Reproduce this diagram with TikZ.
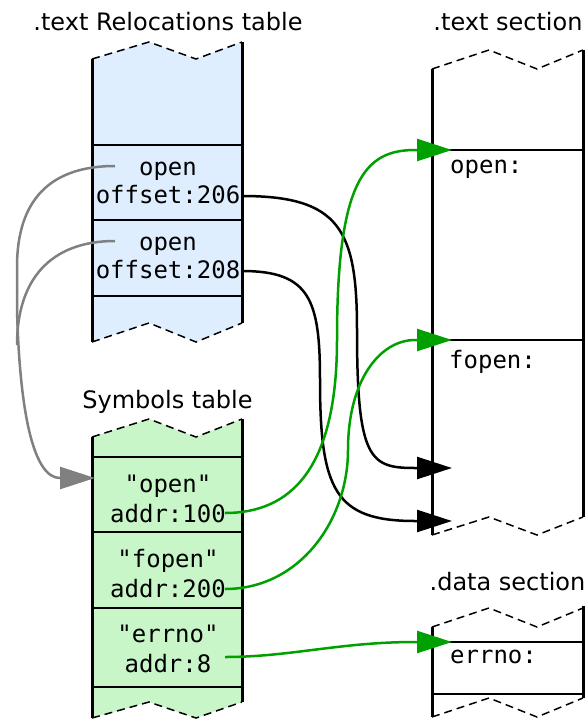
\documentclass[tikz,border=0pt]{standalone}
\usepackage{fontspec}
\setmainfont{DejaVu Sans}
\setmonofont{DejaVu Sans Mono}
\usetikzlibrary{arrows.meta}
\definecolor{relfill}{RGB}{222,238,255}
\definecolor{symfill}{RGB}{200,246,200}
\definecolor{grn}{RGB}{0,160,0}
\definecolor{gry}{RGB}{128,128,128}
\begin{document}
\begin{tikzpicture}[x=1pt,y=-1pt,
  title/.style={font=\fontsize{24}{28}\selectfont, anchor=base, inner sep=0pt},
  mono/.style={font=\ttfamily\fontsize{24}{28}\selectfont, anchor=base, inner sep=0pt},
  monol/.style={mono, anchor=base west},
  side/.style={line width=3pt},
  rowline/.style={line width=1.5pt},
  zig/.style={line width=1.5pt, dash pattern=on 8pt off 5pt},
  conn/.style={line width=2.5pt},
  tip/.style={-{Triangle[length=35pt,width=22pt]}}
]
\useasboundingbox (0,0) rectangle (587,720);

% ---------- .text Relocations table ----------
\fill[relfill] (92,59) -- (149,42) -- (196,59) -- (242,42) -- (242,323) -- (196,342) -- (149,323) -- (92,342) -- cycle;
\draw[zig] (92,59) -- (149,42) -- (196,59) -- (242,42);
\draw[zig] (92,342) -- (149,323) -- (196,342) -- (242,323);
\draw[side] (92,59) -- (92,342);
\draw[side] (242,42) -- (242,323);
\draw[rowline] (92,145) -- (242,145);
\draw[rowline] (92,220) -- (242,220);
\draw[rowline] (92,296) -- (242,296);
\node[title] (reltitle) at (168,30) {.text Relocations table};
\node[mono] (r1a) at (168,175) {open};
\node[mono] (r1b) at (168,203) {offset:206};
\node[mono] (r2a) at (168,250) {open};
\node[mono] (r2b) at (168,278) {offset:208};

% ---------- Symbols table ----------
\fill[symfill] (92,437) -- (149,419) -- (196,437) -- (242,419) -- (242,702) -- (196,718) -- (149,702) -- (92,718) -- cycle;
\draw[zig] (92,437) -- (149,419) -- (196,437) -- (242,419);
\draw[zig] (92,718) -- (149,702) -- (196,718) -- (242,702);
\draw[side] (92,437) -- (92,718);
\draw[side] (242,419) -- (242,702);
\draw[rowline] (92,457) -- (242,457);
\draw[rowline] (92,532) -- (242,532);
\draw[rowline] (92,608) -- (242,608);
\draw[rowline] (92,687) -- (242,687);
\node[title] (symtitle) at (167.5,408) {Symbols table};
\node[mono] (s1a) at (168,492) {"open"};
\node[mono] (s1b) at (168,522) {addr:100};
\node[mono] (s2a) at (168,567) {"fopen"};
\node[mono] (s2b) at (168,597) {addr:200};
\node[mono] (s3a) at (168,642) {"errno"};
\node[mono] (s3b) at (168,672) {addr:8};

% ---------- .text section ----------
\draw[zig] (432,69) -- (489,50) -- (537,69) -- (583,50);
\draw[zig] (432,535) -- (489,517) -- (537,535) -- (583,517);
\draw[side] (432,69) -- (432,535);
\draw[side] (583,50) -- (583,517);
\draw[rowline] (432,150) -- (583,150);
\draw[rowline] (432,340) -- (583,340);
\node[title] (texttitle) at (508,30) {.text section};
\node[monol] (topen) at (450,173) {open:};
\node[monol] (tfopen) at (449,368) {fopen:};

% ---------- .data section ----------
\draw[zig] (432,627) -- (489,608) -- (537,627) -- (583,608);
\draw[zig] (432,717) -- (489,698) -- (537,717) -- (583,698);
\draw[side] (432,627) -- (432,717);
\draw[side] (583,606) -- (583,698);
\draw[rowline] (432,642) -- (583,642);
\draw[rowline] (432,694) -- (583,694);
\node[title] (datatitle) at (507.5,590) {.data section};
\node[monol] (derrno) at (450,663) {errno:};

% ---------- connector end points ----------
\coordinate (g1s) at (115,166);
\coordinate (g2s) at (115,241);
\coordinate (gend) at (95,478);
\coordinate (b1s) at (242,196);
\coordinate (b1e) at (452,468);
\coordinate (b2s) at (242,271);
\coordinate (b2e) at (452,521);
\coordinate (gr1s) at (225,513);
\coordinate (gr1e) at (452,150);
\coordinate (gr2s) at (225,589);
\coordinate (gr2e) at (452,340);
\coordinate (gr3s) at (225,657);
\coordinate (gr3e) at (452,642);

% gray: relocation -> symbol
\draw[conn, gry] (g2s) .. controls (50,241) and (17,280) .. (17,345);
\draw[conn, gry, tip] (g1s) .. controls (50,166) and (17,200) .. (17,267) -- (17,310)
  .. controls (20,420) and (35,478) .. (60,478) -- (gend);

% black: relocation offsets -> text
\draw[conn, black, tip] (b1s) .. controls (340,196) and (357,230) .. (357,330)
  .. controls (357,460) and (370,468) .. (415,468) -- (b1e);
\draw[conn, black, tip] (b2s) .. controls (310,271) and (320,300) .. (320,380)
  .. controls (320,490) and (335,521) .. (415,521) -- (b2e);

% green: symbol addresses -> sections
\draw[conn, grn, tip] (gr1s) .. controls (290,513) and (337,470) .. (337,340)
  .. controls (337,180) and (365,150) .. (415,150) -- (gr1e);
\draw[conn, grn, tip] (gr2s) .. controls (300,589) and (348,520) .. (348,450)
  .. controls (348,380) and (380,340) .. (415,340) -- (gr2e);
\draw[conn, grn, tip] (gr3s) .. controls (290,657) and (340,642) .. (415,642) -- (gr3e);
\end{tikzpicture}
\end{document}
